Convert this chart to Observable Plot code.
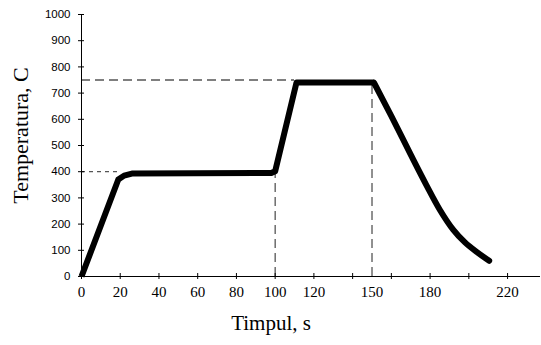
<!DOCTYPE html>
<html>
<head>
<meta charset="utf-8">
<script src="https://cdn.jsdelivr.net/npm/d3@7"></script>
<script src="https://cdn.jsdelivr.net/npm/@observablehq/plot@0.6"></script>
<style>
  html, body { margin: 0; padding: 0; background: #fff; }
  #chart svg { display: block; }
</style>
</head>
<body>
<div id="chart"></div>
<script>
// Temperature profile (time in s, temperature in C): heating + holds
const timeS = [0, 19, 22, 26, 98, 100, 111, 151];
const tempC = [0, 370, 385, 393, 395, 402, 740, 740];
// Cooling branch
const coolTimeS = [151, 160, 170, 178, 185, 192, 198, 204, 210.5];
const coolTempC = [740, 612, 465, 350, 255, 178, 130, 94, 60];

// Reference (dashed) lines
const hGuideY = [400, 750];
const hGuideXEnd = [20, 110];
const vGuideX = [100, 150];
const vGuideYEnd = [400, 740];

// Axis ticks and labels
const yTicks = [0, 100, 200, 300, 400, 500, 600, 700, 800, 900, 1000];
const xTicks = [0, 20, 40, 60, 80, 100, 120, 140, 160, 180, 200, 220];
const xTickLabels = [0, 20, 40, 60, 80, 100, 120, 150, 180, 220];

const xTitle = "Timpul, s";
const yTitle = "Temperatura, C";

const heat = timeS.map((t, i) => ({t, T: tempC[i]}));
const cool = coolTimeS.map((t, i) => ({t, T: coolTempC[i]}));
const hGuides = hGuideY.map((y, i) => ({y, x2: hGuideXEnd[i]}));
const vGuides = vGuideX.map((x, i) => ({x, y2: vGuideYEnd[i]}));

const serif = "'Liberation Serif', 'Times New Roman', serif";
const sans = "'Liberation Sans', Arial, sans-serif";

const chart = Plot.plot({
  width: 541,
  height: 345,
  marginLeft: 81,
  marginRight: 1,
  marginTop: 14,
  marginBottom: 69,
  style: {background: "#fff", color: "#000", overflow: "visible"},
  x: {domain: [0, 237], axis: null},
  y: {domain: [0, 1000], axis: null},
  marks: [
    // dashed guides
    Plot.ruleY(hGuides.slice(0, 1), {y: "y", x1: 0, x2: "x2", stroke: "#555", strokeWidth: 1.3, strokeDasharray: "4,4"}),
    Plot.ruleY(hGuides.slice(1), {y: "y", x1: 0, x2: "x2", stroke: "#555", strokeWidth: 1.3, strokeDasharray: "9,5"}),
    Plot.ruleX(vGuides, {x: "x", y1: 0, y2: "y2", stroke: "#555", strokeWidth: 1.3, strokeDasharray: "9,5"}),
    // axis lines
    Plot.ruleX([0], {stroke: "#000", strokeWidth: 1}),
    Plot.ruleY([0], {stroke: "#000", strokeWidth: 1}),
    // crossing tick marks
    Plot.axisY({ticks: yTicks, tickSize: 6, dx: 3, tickFormat: () => "", label: null, stroke: "#000"}),
    Plot.axisX({ticks: xTicks, tickSize: 6, dy: -3, tickFormat: () => "", label: null, stroke: "#000"}),
    // tick labels
    Plot.text(yTicks, {y: d => d, text: d => String(d), frameAnchor: "left", dx: -11, textAnchor: "end", fontFamily: sans, fontSize: 11.5, fill: "#000"}),
    Plot.text(xTickLabels, {x: d => d, text: d => String(d), frameAnchor: "bottom", dy: 20, fontFamily: serif, fontSize: 15, fill: "#000"}),
    // titles
    Plot.text([xTitle], {frameAnchor: "bottom", dy: 53, dx: -40, textAnchor: "middle", fontFamily: serif, fontSize: 21, fill: "#000"}),
    Plot.text([yTitle], {frameAnchor: "left", dx: -61, dy: -10, rotate: -90, textAnchor: "middle", fontFamily: serif, fontSize: 22, fill: "#000"}),
    // temperature curve
    Plot.line(heat, {x: "t", y: "T", stroke: "#000", strokeWidth: 6, strokeLinejoin: "round", strokeLinecap: "butt"}),
    Plot.line(cool, {x: "t", y: "T", stroke: "#000", strokeWidth: 6, strokeLinejoin: "round", strokeLinecap: "round", curve: "monotone-x"})
  ]
});
document.getElementById("chart").appendChild(chart);
</script>
</body>
</html>
